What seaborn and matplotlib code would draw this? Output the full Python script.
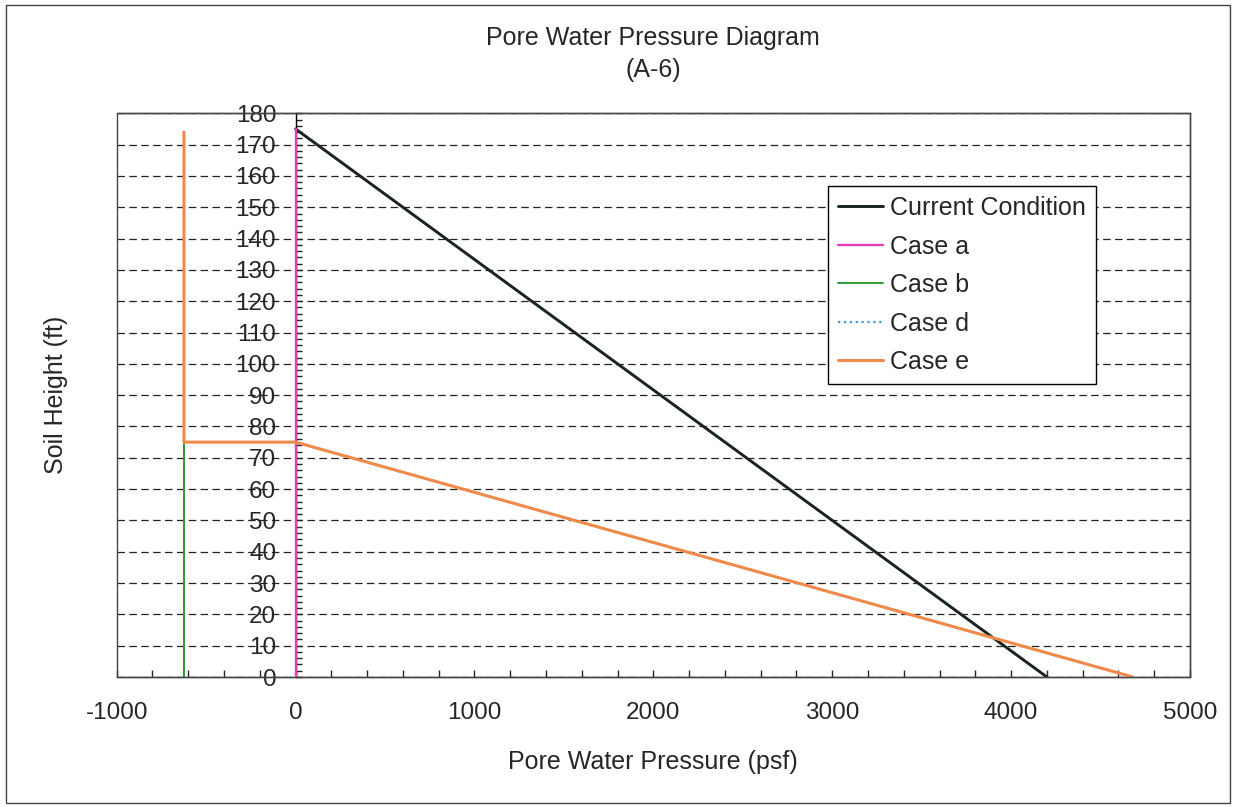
import numpy as np
import pandas as pd
import seaborn as sns
import matplotlib.pyplot as plt
from matplotlib.patches import Rectangle
from matplotlib.ticker import MultipleLocator

# data (x = pore pressure psf, y = soil height ft)
current_x = [0, 4200]
current_y = [175, 0]
case_a_x = [0, 0]
case_a_y = [0, 175]
case_b_x = [-624, -624]
case_b_y = [0, 75]
case_d_x = [0, 4680]
case_d_y = [75, 0]
case_e_x = [-624, -624, 0, 4680]
case_e_y = [174, 75, 75, 0]

x_ticks = [-1000, 0, 1000, 2000, 3000, 4000, 5000]
y_ticks = list(range(0, 181, 10))

sns.set_style("white")
plt.rcParams['font.family'] = ['Liberation Sans', 'DejaVu Sans']
plt.rcParams['axes.unicode_minus'] = False

fig = plt.figure(figsize=(12.35, 8.07), dpi=100)
ax = fig.add_axes([116.7/1235, 130/807, (1190-116.7)/1235, (677-113.3)/807])

# dashed horizontal grid
ax.set_axisbelow(True)
ax.yaxis.grid(True, color="#222222", linestyle=(0, (6, 3.5)), linewidth=0.9)
ax.xaxis.grid(False)

sns.lineplot(x=current_x, y=current_y, sort=False, estimator=None, color="#18241c",
             linewidth=2.1, label="Current Condition", ax=ax, zorder=3)
sns.lineplot(x=case_a_x, y=case_a_y, sort=False, estimator=None, color="#e040b8",
             linewidth=1.7, label="Case a", ax=ax, zorder=3)
sns.lineplot(x=case_b_x, y=case_b_y, sort=False, estimator=None, color="#2e9a2e",
             linewidth=1.4, label="Case b", ax=ax, zorder=3)
sns.lineplot(x=case_d_x, y=case_d_y, sort=False, estimator=None, color="#3a9ad9",
             linewidth=1.6, linestyle=":", label="Case d", ax=ax, zorder=3)
sns.lineplot(x=case_e_x, y=case_e_y, sort=False, estimator=None, color="#f08a4b",
             linewidth=2.2, label="Case e", ax=ax, zorder=3)

ax.set_xlim(-1000, 5000)
ax.set_ylim(0, 180)
ax.set_xticks(x_ticks)
ax.set_yticks(y_ticks)
ax.xaxis.set_minor_locator(MultipleLocator(200))
ax.yaxis.set_minor_locator(MultipleLocator(2))

# y axis sits at x = 0, box drawn around the plot area
ax.spines['left'].set_position(('data', 0))
ax.spines['left'].set_color("black")
ax.spines['left'].set_linewidth(1.0)
for s in ['top', 'right', 'bottom']:
    ax.spines[s].set_color("#444444")
    ax.spines[s].set_linewidth(1.0)
ax.add_patch(Rectangle((0, 0), 1, 1, transform=ax.transAxes, fill=False,
                       edgecolor="#444444", linewidth=1.0, clip_on=False, zorder=5))

ax.tick_params(axis='x', which='both', direction='in', length=5, width=1,
               labelsize=17.5, pad=18, bottom=True, top=False)
ax.tick_params(axis='y', which='both', direction='in', length=4, width=1,
               labelsize=17.5, pad=14, left=True, right=False)

ax.set_title("Pore Water Pressure Diagram\n(A-6)", fontsize=18, pad=26, linespacing=1.45)
ax.set_xlabel("Pore Water Pressure (psf)", fontsize=18, labelpad=19)
ax.set_ylabel("Soil Height (ft)", fontsize=18)
ax.yaxis.set_label_coords(-0.045, 0.5)

leg = ax.legend(loc='upper left', bbox_to_anchor=(0.6627, 0.871), fontsize=18,
                frameon=True, fancybox=False, framealpha=1, edgecolor="black",
                handlelength=1.8, handletextpad=0.3, labelspacing=0.58,
                borderpad=0.4, borderaxespad=0)
leg.get_frame().set_linewidth(1.0)

# outer border of the chart
fig.patches.append(Rectangle((6/1235, 4/807), 1224/1235, 798/807, transform=fig.transFigure,
                             fill=False, edgecolor="#444444", linewidth=1.0))

fig.savefig("out.png", dpi=100)
